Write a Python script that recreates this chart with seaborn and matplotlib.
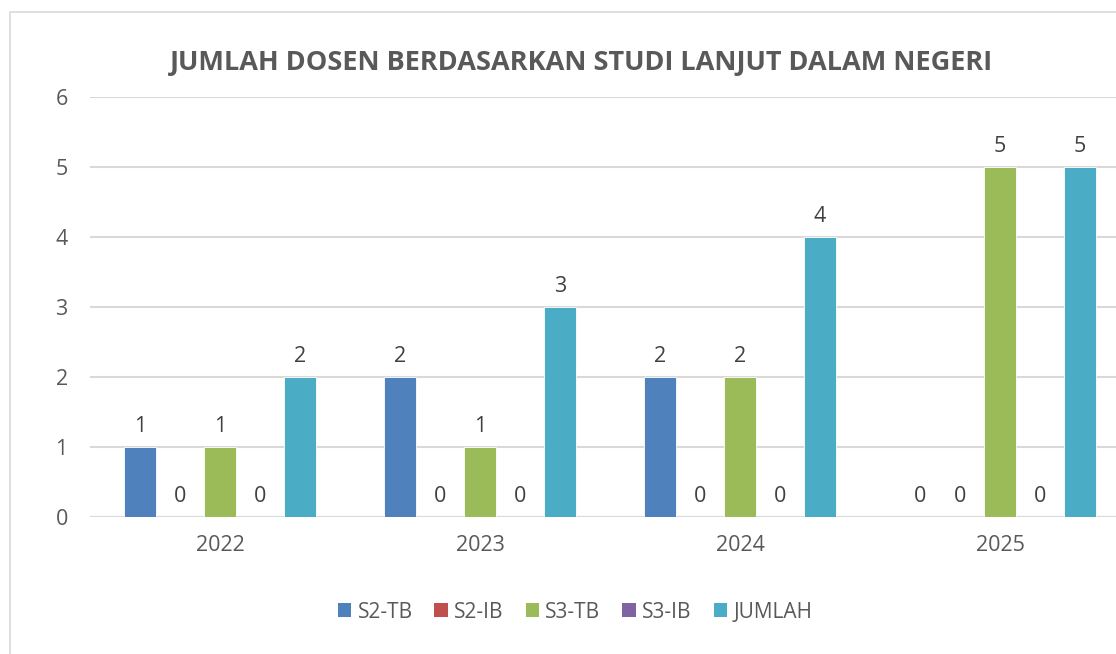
import matplotlib
matplotlib.use("Agg")
import matplotlib.pyplot as plt
import seaborn as sns
import pandas as pd
from matplotlib.patches import Rectangle, Patch

years = ["2022", "2023", "2024", "2025"]
series = ["S2-TB", "S2-IB", "S3-TB", "S3-IB", "JUMLAH"]
s2_tb = [1, 2, 2, 0]
s2_ib = [0, 0, 0, 0]
s3_tb = [1, 1, 2, 5]
s3_ib = [0, 0, 0, 0]
jumlah = [2, 3, 4, 5]
colors = ["#4F81BD", "#C0504D", "#9BBB59", "#8064A2", "#4BACC6"]
title = "JUMLAH DOSEN BERDASARKAN STUDI LANJUT DALAM NEGERI"

values = [s2_tb, s2_ib, s3_tb, s3_ib, jumlah]
rows = []
for name, vals in zip(series, values):
    for y, v in zip(years, vals):
        rows.append({"Tahun": y, "Seri": name, "Nilai": v})
df = pd.DataFrame(rows)

sns.set_theme(style="white")
plt.rcParams["font.family"] = ["Open Sans", "DejaVu Sans"]
txt = "#595959"

fig = plt.figure(figsize=(11.16, 6.54), dpi=100)
ax = fig.add_axes([90 / 1116, 137 / 654, 1040 / 1116, 420 / 654])

sns.barplot(data=df, x="Tahun", y="Nilai", hue="Seri", order=years,
            hue_order=series, palette=colors, saturation=1, width=0.77, gap=0.22,
            edgecolor="white", linewidth=0.6, ax=ax, legend=False,
            errorbar=None)

for cont in ax.containers:
    ax.bar_label(cont, fmt="%d", padding=7, fontsize=15.5, color="#404040")

ax.set_xlim(-0.5, 3.5)
ax.set_ylim(0, 6)
ax.set_yticks(range(0, 7))
ax.yaxis.grid(True, color="#D9D9D9", linewidth=1.5)
ax.set_axisbelow(True)
for s in ax.spines.values():
    s.set_visible(False)
ax.axhline(0, color="#D9D9D9", linewidth=1.5, zorder=0.5)
ax.tick_params(axis="both", length=0, labelsize=15.5, labelcolor=txt)
ax.tick_params(axis="y", pad=16)
ax.tick_params(axis="x", pad=13)
ax.set_xlabel("")
ax.set_ylabel("")

fig.text(582 / 1116, 1 - 63 / 654, title, ha="center", va="center",
         fontsize=19.5, fontweight="bold", color=txt)

handles = [Patch(facecolor=c, edgecolor="none") for c in colors]
fig.legend(handles, series, loc="center", bbox_to_anchor=(575 / 1116, 1 - 612 / 654),
           ncol=5, frameon=False, fontsize=15, labelcolor=txt,
           handlelength=0.65, handleheight=0.65, handletextpad=0.3,
           columnspacing=1.05)

fig.patches.append(Rectangle((10 / 1116, -0.1), 1.2, (654 - 12) / 654 + 0.1,
                             transform=fig.transFigure, fill=False,
                             edgecolor="#D9D9D9", linewidth=1.2))

fig.savefig("out.png", dpi=100)
